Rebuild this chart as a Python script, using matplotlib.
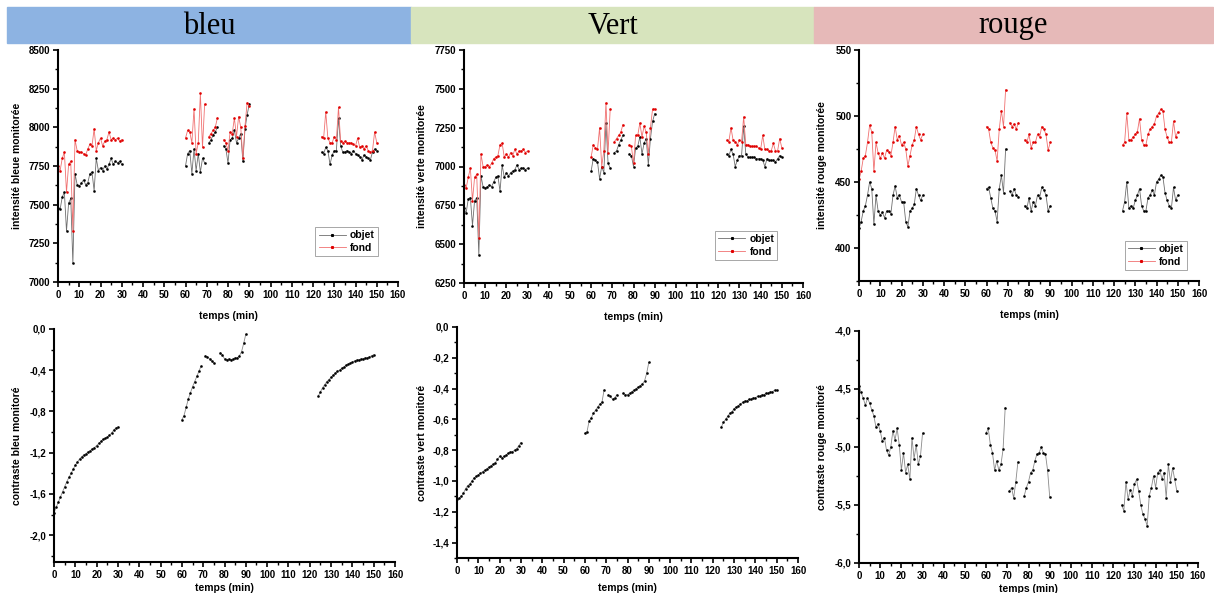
import numpy as np
import matplotlib
matplotlib.use("Agg")
import matplotlib.pyplot as plt
from matplotlib.patches import Rectangle
from matplotlib.ticker import MultipleLocator, FuncFormatter


# temps de mesure (min)
temps = [0, 1, 2, 3, 4, 5, 6, 7, 8, 9, 10, 11, 12, 13, 14, 15, 16, 17, 18, 19,
         20, 21, 22, 23, 24, 25, 26, 27, 28, 29, 30,
         60, 61, 62, 63, 64, 65, 66, 67, 68, 69,
         71, 72, 73, 74, 75,
         78, 79, 80, 81, 82, 83, 84, 85, 86, 87, 88, 89, 90,
         124, 125, 126, 127, 128, 129, 130, 131, 132, 133, 134, 135, 136, 137,
         138, 139, 140, 141, 142, 143, 144, 145, 146, 147, 148, 149, 150]

bleu_objet = [7480, 7470, 7550, 7580, 7330, 7510, 7540, 7120, 7700, 7630,
              7620, 7640, 7660, 7630, 7640, 7700, 7710, 7590, 7800, 7720,
              7740, 7720, 7750, 7730, 7760, 7800, 7760, 7780, 7770, 7780, 7760,
              7750, 7830, 7850, 7700, 7860, 7720, 7830, 7710, 7800, 7770,
              7900, 7920, 7950, 7970, 8000,
              7880, 7860, 7770, 7920, 7930, 7980, 7900, 7930, 7960, 7780, 7990, 8080, 8150,
              7840, 7830, 7870, 7850, 7760, 7820, 7850, 7850, 8060, 7880, 7840, 7840, 7850,
              7840, 7830, 7850, 7830, 7820, 7810, 7790, 7820, 7810, 7800, 7790, 7840, 7860, 7850]
bleu_fond = [7750, 7720, 7800, 7840, 7580, 7760, 7780, 7330, 7920, 7850,
             7840, 7840, 7830, 7820, 7860, 7890, 7880, 7990, 7850, 7900,
             7930, 7880, 7910, 7920, 7970, 7920, 7930, 7920, 7930, 7910, 7920,
             7930, 7980, 7970, 7900, 8120, 7830, 7900, 8220, 7870, 8150,
             7940, 7960, 7980, 8000, 8060,
             7920, 7900, 7850, 7970, 7960, 8060, 7940, 8070, 8000, 7800, 8010, 8160, 8140,
             7940, 7930, 8100, 7930, 7900, 7900, 7940, 7920, 8130, 7910, 7900, 7910, 7900,
             7900, 7900, 7890, 7880, 7930, 7870, 7880, 7860, 7880, 7850, 7840, 7850, 7970, 7900]

vert_objet = [6730, 6700, 6790, 6800, 6620, 6780, 6800, 6430, 6940, 6870,
              6860, 6870, 6880, 6870, 6900, 6930, 6940, 6840, 7010, 6930,
              6960, 6940, 6960, 6970, 6980, 7010, 6980, 6990, 6990, 6980, 6990,
              6970, 7050, 7040, 7030, 6920, 7000, 6960, 7280, 7020, 6990,
              7090, 7100, 7140, 7170, 7200,
              7080, 7070, 7000, 7120, 7130, 7190, 7080, 7150, 7180, 7010, 7180, 7290, 7340,
              7080, 7070, 7110, 7080, 7000, 7040, 7070, 7070, 7260, 7080, 7060, 7060, 7060,
              7060, 7050, 7050, 7050, 7040, 7000, 7050, 7040, 7040, 7040, 7030, 7050, 7070, 7060]
vert_fond = [6880, 6860, 6930, 6990, 6780, 6930, 6950, 6540, 7080, 7000,
             7000, 7010, 7000, 7020, 7050, 7060, 7070, 7140, 7150, 7060,
             7080, 7060, 7090, 7070, 7110, 7080, 7100, 7100, 7110, 7090, 7100,
             7060, 7140, 7120, 7110, 7250, 7000, 7100, 7410, 7090, 7370,
             7160, 7180, 7200, 7220, 7270,
             7140, 7130, 7020, 7200, 7200, 7280, 7190, 7260, 7220, 7080, 7250, 7370, 7370,
             7170, 7160, 7250, 7170, 7160, 7140, 7170, 7160, 7320, 7140, 7140, 7130, 7130,
             7130, 7130, 7120, 7110, 7200, 7110, 7110, 7100, 7100, 7150, 7100, 7100, 7180, 7120]

rouge_objet = [415, 420, 428, 432, 440, 450, 445, 418, 440, 428,
               425, 427, 423, 428, 428, 426, 440, 447, 438, 440,
               435, 435, 420, 416, 428, 430, 433, 445, 440, 436, 440,
               445, 446, 438, 430, 428, 420, 445, 455, 442, 475,
               443, 440, 445, 440, 439,
               432, 430, 438, 428, 435, 432, 440, 438, 446, 444, 440, 428, 432,
               428, 435, 450, 430, 432, 430, 436, 440, 445, 432, 428, 428, 438,
               440, 444, 440, 450, 452, 455, 454, 442, 436, 432, 430, 446, 436, 440]
rouge_fond = [452, 458, 468, 470, 480, 493, 488, 458, 480, 472,
              468, 472, 468, 474, 473, 470, 480, 492, 482, 485,
              478, 480, 475, 462, 470, 478, 482, 492, 486, 482, 486,
              492, 490, 480, 476, 474, 466, 490, 504, 492, 520,
              495, 492, 494, 490, 495,
              482, 480, 486, 476, 480, 480, 486, 484, 492, 490, 486, 474, 480,
              478, 480, 502, 482, 482, 484, 486, 488, 498, 482, 478, 478, 486,
              490, 492, 494, 500, 502, 505, 504, 490, 484, 480, 480, 496, 484, 488]

contraste_bleu = [-1.78, -1.73, -1.68, -1.63, -1.58, -1.53, -1.48, -1.44, -1.40, -1.36,
                  -1.32, -1.29, -1.26, -1.24, -1.22, -1.21, -1.19, -1.18, -1.16, -1.15,
                  -1.13, -1.11, -1.09, -1.07, -1.06, -1.05, -1.03, -1.01, -0.98, -0.96, -0.95,
                  -0.88, -0.84, -0.76, -0.68, -0.62, -0.56, -0.51, -0.46, -0.41, -0.36,
                  -0.26, -0.27, -0.29, -0.31, -0.33,
                  -0.23, -0.25, -0.29, -0.30, -0.29, -0.30, -0.29, -0.28, -0.28, -0.26, -0.22, -0.14, -0.05,
                  -0.65, -0.61, -0.57, -0.54, -0.51, -0.49, -0.47, -0.45, -0.43, -0.41, -0.40, -0.38, -0.37,
                  -0.35, -0.34, -0.33, -0.32, -0.31, -0.30, -0.30, -0.29, -0.29, -0.28, -0.28, -0.27, -0.26, -0.25]
contraste_vert = [-1.12, -1.11, -1.10, -1.08, -1.05, -1.03, -1.02, -1.00, -0.98, -0.97,
                  -0.96, -0.95, -0.94, -0.93, -0.92, -0.91, -0.90, -0.89, -0.88, -0.86,
                  -0.84, -0.85, -0.84, -0.83, -0.82, -0.81, -0.81, -0.80, -0.79, -0.77, -0.75,
                  -0.69, -0.68, -0.61, -0.59, -0.56, -0.54, -0.52, -0.50, -0.49, -0.41,
                  -0.44, -0.45, -0.47, -0.46, -0.44,
                  -0.43, -0.44, -0.44, -0.43, -0.42, -0.41, -0.40, -0.39, -0.38, -0.37, -0.35, -0.30, -0.23,
                  -0.65, -0.62, -0.60, -0.58, -0.56, -0.55, -0.53, -0.52, -0.51, -0.50, -0.49, -0.48, -0.48,
                  -0.47, -0.47, -0.46, -0.46, -0.45, -0.45, -0.44, -0.44, -0.43, -0.43, -0.42, -0.42, -0.41, -0.41]
contraste_rouge = [-4.47, -4.53, -4.58, -4.64, -4.58, -4.62, -4.68, -4.73, -4.83, -4.80,
                   -4.86, -4.95, -4.92, -5.03, -5.07, -5.00, -4.86, -4.94, -4.84, -4.98,
                   -5.20, -5.05, -5.22, -5.15, -5.28, -4.92, -5.10, -4.98, -5.15, -5.08, -4.88,
                   -4.88, -4.84, -4.98, -5.05, -5.20, -5.12, -5.20, -5.15, -5.02, -4.66,
                   -5.38, -5.35, -5.44, -5.30, -5.13,
                   -5.42, -5.35, -5.30, -5.22, -5.20, -5.12, -5.06, -5.05, -5.00, -5.05, -5.06, -5.20, -5.43,
                   -5.50, -5.55, -5.30, -5.45, -5.37, -5.42, -5.32, -5.28, -5.38, -5.50, -5.58, -5.62, -5.68,
                   -5.42, -5.35, -5.25, -5.35, -5.22, -5.20, -5.28, -5.22, -5.44, -5.15, -5.30, -5.18, -5.28, -5.38]

titres = ["bleu", "Vert", "rouge"]
couleurs_titre = ["#8db3e2", "#d7e4bd", "#e6b9b8"]
labels_intensite = ["intensité bleue monitorée", "intensité verte monitorée",
                    "intensité rouge monitorée"]
labels_contraste = ["contraste bleu monitoré", "contraste vert monitoré",
                    "contraste rouge monitoré"]


W, H = 1214, 593
FONT = "Liberation Sans"


def with_gaps(x, y):
    """coupe la courbe entre les sessions de mesure"""
    x = np.asarray(x, float)
    y = np.asarray(y, float)
    idx = np.where(np.diff(x) > 1.5)[0] + 1
    return np.insert(x, idx, np.nan), np.insert(y, idx, np.nan)


def box(l, t, r, b):
    return [l / W, 1 - b / H, (r - l) / W, (b - t) / H]


def comma(fmt):
    return FuncFormatter(lambda v, p: (fmt % v).replace(".", ","))


def style_axis(ax, ylim, major, minor, fmt, ylabel, ylab_x, xlab_y):
    ax.set_xlim(0, 160)
    ax.set_ylim(*ylim)
    ax.xaxis.set_major_locator(MultipleLocator(10))
    ax.xaxis.set_minor_locator(MultipleLocator(5))
    ax.yaxis.set_major_locator(MultipleLocator(major))
    ax.yaxis.set_minor_locator(MultipleLocator(minor))
    ax.yaxis.set_major_formatter(fmt)
    for s in ("top", "right"):
        ax.spines[s].set_visible(False)
    for s in ("left", "bottom"):
        ax.spines[s].set_linewidth(1.5)
    ax.tick_params(which="major", direction="out", length=3.5, width=1.2,
                   labelsize=7, pad=2)
    ax.tick_params(which="minor", direction="out", length=2, width=1.0)
    for lab in ax.get_xticklabels() + ax.get_yticklabels():
        lab.set_fontweight("bold")
        lab.set_family(FONT)
    ax.set_xlabel("temps (min)", fontsize=7.5, fontweight="bold", family=FONT)
    ax.set_ylabel(ylabel, fontsize=7.5, fontweight="bold", family=FONT)
    ax.yaxis.set_label_coords(ylab_x, 0.5)
    ax.xaxis.set_label_coords(0.5, xlab_y)


fig = plt.figure(figsize=(W / 100, H / 100), dpi=100)

# bandeaux de titre
bandeaux = [(7, 411), (411, 814), (814, 1213)]
for (l, r), titre, c in zip(bandeaux, titres, couleurs_titre):
    fig.patches.append(Rectangle((l / W, 1 - 43 / H), (r - l) / W, 36 / H,
                                 transform=fig.transFigure, color=c, zorder=0))
    fig.text((l + r) / 2 / W, 1 - 26 / H, titre, ha="center", va="center",
             fontsize=22, family="Liberation Serif")

haut = [box(58, 50, 398, 282), box(464, 50, 803, 283), box(859, 50, 1199, 281)]
bas = [box(54, 329, 395, 562), box(457, 327, 798, 558), box(859, 331, 1198, 563)]

objets = [bleu_objet, vert_objet, rouge_objet]
fonds = [bleu_fond, vert_fond, rouge_fond]
contrastes = [contraste_bleu, contraste_vert, contraste_rouge]

ylims_h = [(7000, 8500), (6250, 7750), (375, 550)]
major_h = [250, 250, 50]
ylab_h = [-0.106, -0.109, -0.094]
leg_anchor = [(0.956, 0.09), (0.94, 0.077), (0.98, 0.026)]

ylims_b = [(-2.26, 0), (-1.5, 0), (-6, -4)]
major_b = [0.4, 0.2, 0.5]
ylab_b = [-0.094, -0.088, -0.094]
xlab_b = [-0.092, -0.108, -0.092]

for i in range(3):
    ax = fig.add_axes(haut[i])
    x, y = with_gaps(temps, objets[i])
    ax.plot(x, y, color="#6e6e6e", lw=0.6, marker="s", ms=0.8,
            mfc="black", mec="black", label="objet")
    x, y = with_gaps(temps, fonds[i])
    ax.plot(x, y, color="#f07070", lw=0.6, marker="s", ms=0.8,
            mfc="#e00000", mec="#e00000", label="fond")
    style_axis(ax, ylims_h[i], major_h[i], major_h[i] / 2,
               FuncFormatter(lambda v, p: "%d" % v), labels_intensite[i],
               ylab_h[i], -0.125)
    leg = ax.legend(loc="lower right", bbox_to_anchor=leg_anchor[i],
                    fancybox=False, edgecolor="#999999", framealpha=1,
                    handlelength=2.6, handletextpad=0.4, borderpad=0.3,
                    labelspacing=0.25, numpoints=1, markerscale=1.5,
                    prop={"family": FONT, "weight": "bold", "size": 7.5})
    leg.get_frame().set_linewidth(0.6)

    ax = fig.add_axes(bas[i])
    x, y = with_gaps(temps, contrastes[i])
    ax.plot(x, y, color="#8a8a8a", lw=0.6, marker="s", ms=0.8,
            mfc="black", mec="black")
    fmt = comma("%.1f")
    style_axis(ax, ylims_b[i], major_b[i], major_b[i] / 2, fmt,
               labels_contraste[i], ylab_b[i], xlab_b[i])

fig.savefig("out.png", dpi=100)
